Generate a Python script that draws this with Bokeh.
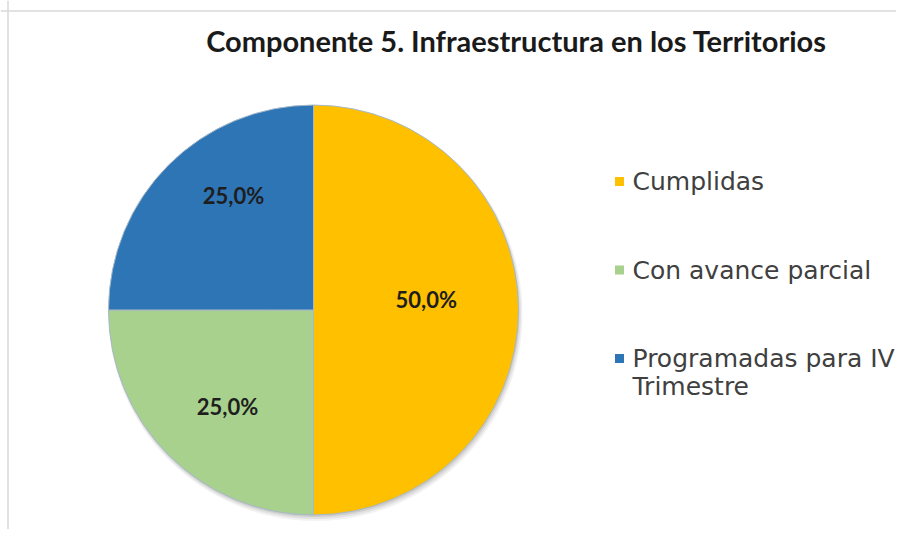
import math
from bokeh.plotting import figure
from bokeh.models import Range1d, Span
from bokeh.core.properties import value
from bokeh.embed import file_html
from bokeh.resources import INLINE

# ---- data ----
title_text = "Componente 5. Infraestructura en los Territorios"
categories = ["Cumplidas", "Con avance parcial", "Programadas para IV\nTrimestre"]
values = [50.0, 25.0, 25.0]
colors = ["#FFC000", "#A9D18E", "#2E75B6"]

# ---- layout (page pixels -> data units, 1 unit = 1 px) ----
W, H = 896, 529
def px(x):
    return x
def py(y):
    return H - y

cx, cy, R = px(313), py(309.5), 205

p = figure(width=W, height=H, output_backend="svg", toolbar_location=None,
           x_range=Range1d(0, W), y_range=Range1d(0, H),
           x_axis_type=None, y_axis_type=None, min_border=0)
p.grid.visible = False
p.outline_line_color = None
p.background_fill_color = "white"
p.border_fill_color = "white"

# chart-area border (left and top visible)
p.add_layout(Span(location=px(7.5), dimension="height", line_color="#D9D9D9", line_width=1.5))
p.add_layout(Span(location=py(10.5), dimension="width", line_color="#D9D9D9", line_width=1.5))

# title
p.text(x=[px(516)], y=[py(40)], text=[title_text], text_align="center",
       text_baseline="middle", text_font=value("Lato"), text_font_style="bold",
       text_font_size="29px", text_color="#1A1A1A")

# shadow
for off, a, dr in [(4, 0.10, 2), (3, 0.15, 1), (2, 0.2, 0)]:
    p.circle(x=[cx + off * 0.5], y=[cy - off], radius=R + dr, fill_color="#7F7F7F",
             fill_alpha=a, line_color=None)

# slices
total = sum(values)
cum = 0.0
starts, ends, mids = [], [], []
for v in values:
    s = math.pi / 2 - 2 * math.pi * cum / total
    cum += v
    e = math.pi / 2 - 2 * math.pi * cum / total
    starts.append(s)
    ends.append(e)
    mids.append((s + e) / 2)

p.wedge(x=[cx] * len(values), y=[cy] * len(values), radius=R,
        start_angle=starts, end_angle=ends, direction="clock",
        fill_color=colors, line_color="#A7B8C8", line_width=1)

# data labels
label_r = [0.55, 0.60, 0.60]
label_nudge = [(0, 11), (1, -10), (7, 28)]
lx, ly, lt = [], [], []
for i, v in enumerate(values):
    lx.append(cx + label_r[i] * R * math.cos(mids[i]) + label_nudge[i][0])
    ly.append(cy + label_r[i] * R * math.sin(mids[i]) + label_nudge[i][1])
    lt.append(f"{v / total * 100:.1f}%".replace(".", ","))
p.text(x=lx, y=ly, text=lt, text_align="center", text_baseline="middle",
       text_font=value("Lato"), text_font_style="bold", text_font_size="22px",
       text_color="#1E1E1E")

# legend
leg_sq_x = px(619)
leg_tx = px(632)
leg_y0 = py(181)
leg_step = 88.5
line_h = 28
sq_x, sq_y, t_x, t_y, t_t = [], [], [], [], []
for i, name in enumerate(categories):
    yrow = leg_y0 - i * leg_step
    sq_x.append(leg_sq_x)
    sq_y.append(yrow)
    for j, line in enumerate(name.split("\n")):
        t_x.append(leg_tx)
        t_y.append(yrow - j * line_h)
        t_t.append(line)
p.scatter(x=sq_x, y=sq_y, marker="square", size=9, fill_color=colors, line_color=None)
p.text(x=t_x, y=t_y, text=t_t, text_align="left", text_baseline="middle",
       text_font=value("DejaVu Sans"), text_font_size="25px", text_color="#404040")

open("out.html", "w").write(file_html(p, INLINE))
